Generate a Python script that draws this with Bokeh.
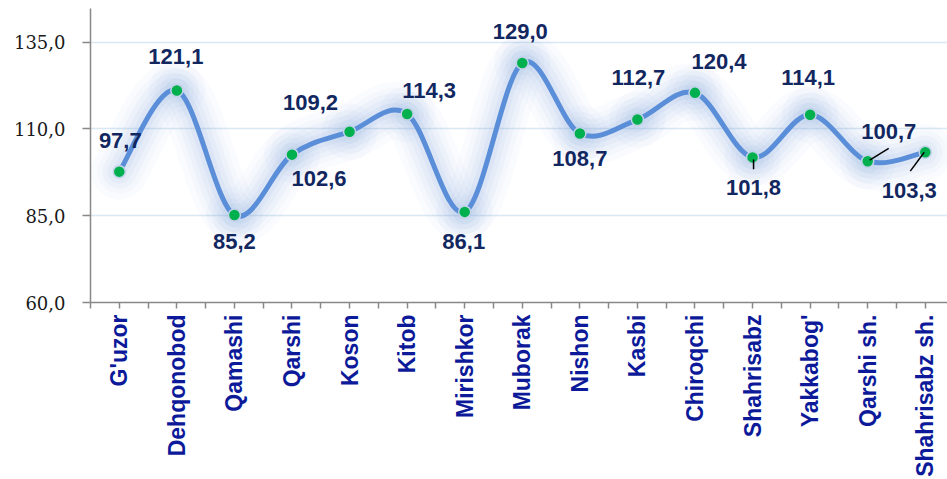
import math
from bokeh.plotting import figure
from bokeh.models import FixedTicker, ColumnDataSource
from bokeh.core.properties import value
from bokeh.embed import file_html
from bokeh.resources import INLINE

# ---- data ----
categories = ["G'uzor", "Dehqonobod", "Qamashi", "Qarshi", "Koson", "Kitob",
              "Mirishkor", "Muborak", "Nishon", "Kasbi", "Chiroqchi",
              "Shahrisabz", "Yakkabog'", "Qarshi sh.", "Shahrisabz sh."]
values = [97.7, 121.1, 85.2, 102.6, 109.2, 114.3, 86.1, 129.0, 108.7,
          112.7, 120.4, 101.8, 114.1, 100.7, 103.3]
y_ticks = [60, 85, 110, 135]
y_tick_labels = ["60,0", "85,0", "110,0", "135,0"]

# label pixel offsets (layout)
label_dx = [1, -1, 0, 27, -39, 22, -1, -2, 0, 1, 24, 1, -2, 21, -16]
label_dy = [-31, -34, 26, 24, -29, -24, 30, -31, 25, -42, -31, 30, -37, -30, 38]
# leader lines for some labels: index -> (x0, y0, x1, y1) pixel offsets from point
leaders = {11: (1, 2, 1, 12), 13: (2, -1, 21, -13), 14: (-1, 0, -15, 19)}

W, H = 947, 479
left, top, bottom = 90, 8, 175
frame_w, frame_h = W - left, H - bottom - top
x0, x1 = -0.5, 14.386
y0, y1 = 60, 144.7
px_x = frame_w / (x1 - x0)
px_y = frame_h / (y1 - y0)

n = len(values)
xs = list(range(n))

p = figure(width=W, height=H, output_backend="svg", toolbar_location=None,
           x_range=(x0, x1), y_range=(y0, y1),
           min_border_left=left, min_border_bottom=bottom,
           min_border_top=top, min_border_right=0)
p.outline_line_color = None
p.background_fill_color = "white"

# grid
p.xgrid.visible = False
p.ygrid.grid_line_color = "#d9e8f3"
p.ygrid.grid_line_width = 1.5

# y axis
p.yaxis.ticker = FixedTicker(ticks=y_ticks)
p.yaxis.major_label_overrides = {t: l for t, l in zip(y_ticks, y_tick_labels)}
p.yaxis.minor_tick_line_color = None
p.yaxis.major_tick_out = 8
p.yaxis.major_tick_in = 0
p.yaxis.axis_line_color = "#888888"
p.yaxis.axis_line_width = 1.5
p.yaxis.major_tick_line_color = "#888888"
p.yaxis.major_tick_line_width = 1.5
p.yaxis.major_label_text_font = "DejaVu Serif"
p.yaxis.major_label_text_font_size = "18px"
p.yaxis.major_label_text_color = "#1a1a1a"
p.yaxis.major_label_standoff = 17

# x axis
half_ticks = [i * 0.5 - 0.5 for i in range(2 * n + 1)]
p.xaxis.ticker = FixedTicker(ticks=half_ticks)
ov = {}
for t in half_ticks:
    if abs(t - round(t)) < 1e-9 and 0 <= round(t) < n:
        ov[int(round(t))] = categories[int(round(t))]
    else:
        ov[t] = ""
p.xaxis.major_label_overrides = ov
p.xaxis.minor_tick_line_color = None
p.xaxis.major_tick_out = 6
p.xaxis.major_tick_in = 0
p.xaxis.axis_line_color = "#888888"
p.xaxis.axis_line_width = 1.5
p.xaxis.major_tick_line_color = "#888888"
p.xaxis.major_tick_line_width = 1.5
p.xaxis.major_label_orientation = math.pi / 2
p.xaxis.major_label_text_font = "Liberation Sans"
p.xaxis.major_label_text_font_style = "bold"
p.xaxis.major_label_text_font_size = "23px"
p.xaxis.major_label_text_color = "#0c1a9a"
p.xaxis.major_label_standoff = 6

# smooth curve (Excel-like smoothing via cubic Bezier control points)
bx0, by0, bx1, by1, cx0, cy0, cx1, cy1 = [], [], [], [], [], [], [], []
for i in range(n - 1):
    pm = i - 1 if i > 0 else i
    pp = i + 2 if i + 2 < n else i + 1
    bx0.append(xs[i]); by0.append(values[i])
    bx1.append(xs[i + 1]); by1.append(values[i + 1])
    cx0.append(xs[i] + (xs[i + 1] - xs[pm]) / 6)
    cy0.append(values[i] + (values[i + 1] - values[pm]) / 6)
    cx1.append(xs[i + 1] - (xs[pp] - xs[i]) / 6)
    cy1.append(values[i + 1] - (values[pp] - values[i]) / 6)
bsrc = ColumnDataSource(dict(x0=bx0, y0=by0, x1=bx1, y1=by1,
                             cx0=cx0, cy0=cy0, cx1=cx1, cy1=cy1))

# glow
for w, a in [(56, 0.045), (44, 0.05), (34, 0.06), (24, 0.07), (14, 0.09)]:
    p.bezier(x0="x0", y0="y0", x1="x1", y1="y1", cx0="cx0", cy0="cy0",
             cx1="cx1", cy1="cy1", source=bsrc, line_color="#86aadf",
             line_width=w, line_alpha=a, line_cap="round")

p.bezier(x0="x0", y0="y0", x1="x1", y1="y1", cx0="cx0", cy0="cy0",
         cx1="cx1", cy1="cy1", source=bsrc, line_color="#5a8ed8",
         line_width=5, line_cap="round")

# markers
p.scatter(xs, values, size=12, fill_color="#00b04f", line_color="#c3d3ea",
          line_width=1.5)

# leader lines
lx0, ly0, lx1, ly1 = [], [], [], []
for i, (a, b, c, d) in leaders.items():
    lx0.append(xs[i] + a / px_x); ly0.append(values[i] - b / px_y)
    lx1.append(xs[i] + c / px_x); ly1.append(values[i] - d / px_y)
p.segment(lx0, ly0, lx1, ly1, line_color="black", line_width=1.5)

# data labels
labels = [f"{v:.1f}".replace(".", ",") for v in values]
lsrc = ColumnDataSource(dict(x=xs, y=values, t=labels,
                             dx=label_dx, dy=label_dy))
p.text(x="x", y="y", text="t", x_offset="dx", y_offset="dy", source=lsrc,
       text_align="center", text_baseline="middle",
       text_font=value("Liberation Sans"), text_font_style="bold",
       text_font_size="22px", text_color="#12275f")

open("out.html", "w").write(file_html(p, INLINE))
